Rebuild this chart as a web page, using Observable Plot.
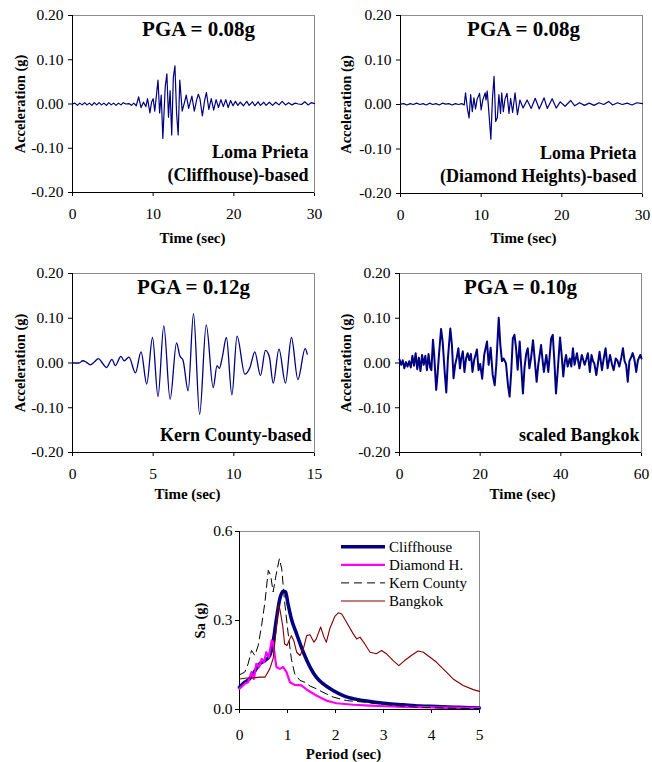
<!DOCTYPE html>
<html><head><meta charset="utf-8">
<script src="https://cdn.jsdelivr.net/npm/d3@7"></script>
<script src="https://cdn.jsdelivr.net/npm/@observablehq/plot@0.6"></script>
<style>
html,body{margin:0;padding:0;background:#fff;}
#root{position:relative;width:652px;height:762px;overflow:hidden;font-family:"Liberation Serif","Times New Roman",serif;}
#root svg{position:absolute;}
</style></head><body><div id="root"></div>
<script>
// ---------- DATA ----------
const cliffhouse = [[0,0],[0.3,0.002],[0.6,-0.003],[0.9,0.002],[1.2,-0.002],[1.5,0.003],[1.8,-0.002],[2.1,0.002],[2.4,-0.003],[2.7,0.003],[3.0,-0.002],[3.3,0.003],[3.6,-0.002],[3.9,0.002],[4.2,-0.003],[4.5,0.003],[4.8,-0.002],[5.1,0.002],[5.4,-0.003],[5.7,0.002],[6.0,-0.002],[6.3,0.003],[6.6,0],[7.0,0.001],[7.3,-0.003],[7.6,0.002],[7.9,-0.004],[8.2,0.016],[8.5,-0.008],[8.8,0.004],[9.1,-0.006],[9.3,0.012],[9.6,-0.02],[9.8,0.004],[10.0,0.012],[10.2,-0.016],[10.6,0.054],[10.8,-0.02],[11.0,0.02],[11.2,-0.078],[11.5,0.04],[11.7,0.068],[11.9,-0.03],[12.1,0.03],[12.3,-0.07],[12.5,0.06],[12.7,0.086],[12.9,-0.02],[13.1,-0.07],[13.3,0.054],[13.6,-0.016],[13.9,0.005],[14.1,0.02],[14.4,-0.01],[14.8,0.018],[15.1,-0.016],[15.4,0.01],[15.6,0.022],[15.8,0.012],[16.1,-0.027],[16.4,0.01],[16.6,0.026],[16.9,-0.012],[17.2,0.012],[17.5,-0.014],[17.8,0.01],[18.1,-0.008],[18.4,0.01],[18.7,-0.006],[19.0,0.01],[19.3,-0.008],[19.6,0.008],[19.9,-0.004],[20.2,0.006],[20.5,-0.003],[20.8,0.004],[21.2,-0.004],[21.6,0.006],[21.9,-0.003],[22.3,0.005],[22.6,-0.004],[23.0,0.005],[23.3,-0.003],[23.7,0.004],[24.0,-0.003],[24.4,0.004],[24.8,-0.003],[25.2,0.004],[25.6,-0.002],[26.0,0.006],[26.4,-0.002],[26.8,0.003],[27.2,-0.002],[27.6,0.002],[28.0,0],[28.4,-0.001],[28.8,0.005],[29.2,-0.002],[29.6,0.003],[30.0,0.001]];

const diamond = [[0,0.001],[0.4,0.002],[0.8,-0.001],[1.2,0.002],[1.6,0],[2.0,0.003],[2.4,0],[2.8,0.002],[3.2,-0.001],[3.6,0.003],[4.0,0],[4.4,0.002],[4.8,-0.001],[5.2,0.003],[5.6,0.001],[6.0,0.002],[6.4,-0.001],[6.8,0.002],[7.2,0],[7.6,0.002],[7.9,-0.001],[8.06,0.026],[8.3,-0.01],[8.5,-0.03],[8.7,0.022],[8.9,-0.016],[9.1,0.015],[9.3,-0.01],[9.5,0.012],[9.8,0.025],[10.0,-0.012],[10.2,0.01],[10.5,0.026],[10.6,0.01],[10.75,0.03],[10.95,-0.016],[11.2,-0.078],[11.4,0.014],[11.6,0.063],[11.8,-0.038],[12.0,-0.03],[12.2,0.022],[12.4,-0.02],[12.55,0.026],[12.75,-0.016],[12.95,0.012],[13.2,0.025],[13.45,-0.02],[13.65,0.014],[13.9,-0.018],[14.2,0.026],[14.5,-0.023],[14.8,0.01],[15.2,-0.008],[15.7,0.01],[16.2,-0.009],[16.7,0.014],[17.2,-0.01],[17.8,0.015],[18.2,-0.009],[18.8,0.013],[19.3,-0.008],[19.8,0.006],[20.4,-0.004],[21.1,0.009],[21.6,-0.003],[22.2,0.004],[22.8,-0.002],[23.4,0.003],[24.0,-0.002],[24.6,0.004],[25.2,0],[25.8,0.007],[26.3,-0.001],[26.9,0.004],[27.5,0],[28.1,0.003],[28.7,-0.001],[29.3,0.004],[30.0,0.002]];

const kern = [[0,0],[0.4,0],[0.64,0.005],[0.85,0.002],[1.1,-0.004],[1.35,0.002],[1.6,0.01],[1.85,0],[2.1,-0.01],[2.45,0.008],[2.65,-0.006],[3.0,0.015],[3.2,0.005],[3.5,0.013],[3.9,-0.022],[4.25,0.025],[4.6,-0.047],[4.96,0.057],[5.3,-0.075],[5.66,0.083],[6.05,-0.081],[6.45,0.045],[6.65,0.016],[6.85,0.006],[7.17,-0.062],[7.5,0.11],[7.88,-0.115],[8.29,0.085],[8.72,-0.055],[8.96,-0.006],[9.1,-0.012],[9.28,0.012],[9.54,0.057],[9.88,-0.071],[10.2,0.06],[10.68,-0.025],[11.0,-0.01],[11.3,0.025],[11.65,-0.028],[11.96,0.028],[12.2,0.014],[12.44,-0.045],[12.8,0.031],[13.2,-0.045],[13.57,0.057],[13.97,-0.037],[14.42,0.032],[14.55,0.02]];

const bangkok = [[0.0,0.008],[0.4,-0.004],[0.8,0.006],[1.2,-0.012],[1.6,0.002],[2.0,-0.008],[2.4,0.004],[2.8,-0.010],[3.2,0.016],[3.6,-0.006],[4.0,0.022],[4.4,-0.014],[4.8,0.012],[5.2,-0.018],[5.6,0.018],[6.0,-0.004],[6.4,0.016],[6.8,-0.016],[7.2,0.020],[7.6,-0.010],[7.9,-0.016],[8.3,0.052],[8.6,0.018],[9.1,-0.060],[9.4,-0.030],[9.8,0.020],[10.3,0.076],[10.7,0.048],[11.2,-0.020],[11.6,-0.066],[12.0,0.010],[12.6,0.077],[13.0,0.040],[13.4,-0.034],[13.8,-0.004],[14.2,0.012],[14.6,0.033],[15.0,-0.012],[15.3,0.010],[15.7,0.026],[16.1,-0.020],[16.5,0.010],[16.9,0.022],[17.3,0.006],[17.7,0.020],[18.1,-0.020],[18.5,0.006],[19.2,0.030],[19.6,-0.016],[20.0,-0.002],[20.5,-0.035],[21.0,0.018],[21.7,0.048],[22.1,-0.004],[22.6,0.034],[23.1,-0.026],[23.6,-0.050],[24.0,-0.004],[24.6,0.101],[25.0,0.040],[25.4,0.004],[25.8,0.010],[26.4,-0.001],[26.9,-0.050],[27.3,-0.075],[27.7,-0.020],[28.1,0.055],[28.5,0.063],[28.9,0.033],[29.3,-0.015],[29.8,0.048],[30.2,-0.010],[30.6,-0.068],[31.0,-0.010],[31.4,0.020],[31.8,0.033],[32.2,-0.012],[32.6,0.010],[33.1,0.051],[33.5,0.010],[34.0,-0.042],[34.4,-0.004],[35.1,0.040],[35.5,0.004],[35.8,-0.020],[36.4,0.018],[36.9,-0.020],[37.6,0.055],[38.0,0.063],[38.4,0.004],[38.8,-0.068],[39.2,-0.020],[39.8,0.057],[40.2,0.018],[40.6,-0.030],[41.0,0.004],[41.3,0.018],[41.7,-0.008],[42.2,0.010],[42.6,-0.008],[43.0,0.033],[43.4,-0.004],[44.0,0.022],[44.6,-0.012],[45.2,0.018],[45.9,-0.004],[46.3,0.008],[46.7,0.022],[47.2,-0.020],[47.6,0.018],[48.0,0.004],[48.3,-0.001],[48.8,-0.027],[49.6,0.025],[50.2,-0.016],[50.6,0.008],[51.1,0.033],[51.6,-0.012],[52.2,0.018],[52.7,-0.004],[53.1,-0.016],[53.6,0.010],[54.0,0.006],[54.5,-0.008],[55.0,0.012],[55.4,0.033],[55.8,0.004],[56.2,-0.004],[56.6,-0.042],[57.0,0.004],[57.4,0.012],[57.8,0.022],[58.2,0.010],[58.7,-0.020],[59.1,0.006],[59.7,0.018],[60.0,0.010]];

// response spectra [period, Sa]
const saCliffhouse = [[0,0.075],[0.11,0.092],[0.21,0.103],[0.28,0.12],[0.35,0.137],[0.42,0.154],[0.53,0.165],[0.63,0.182],[0.70,0.227],[0.77,0.306],[0.84,0.373],[0.91,0.399],[0.96,0.396],[1.01,0.356],[1.08,0.306],[1.19,0.255],[1.33,0.193],[1.47,0.143],[1.6,0.109],[1.74,0.087],[1.95,0.064],[2.16,0.047],[2.44,0.034],[2.72,0.027],[3.06,0.020],[3.41,0.016],[3.76,0.012],[4.1,0.010],[4.45,0.008],[4.8,0.006],[5.0,0.005]];
const saDiamond = [[0,0.07],[0.11,0.087],[0.18,0.092],[0.25,0.126],[0.30,0.103],[0.35,0.154],[0.41,0.143],[0.46,0.171],[0.51,0.16],[0.56,0.193],[0.61,0.176],[0.67,0.233],[0.70,0.227],[0.74,0.176],[0.77,0.143],[0.84,0.137],[0.91,0.143],[0.98,0.126],[1.05,0.092],[1.15,0.083],[1.29,0.081],[1.43,0.064],[1.6,0.047],[1.81,0.030],[2.02,0.021],[2.37,0.016],[2.72,0.013],[3.06,0.011],[3.41,0.009],[3.76,0.008],[4.1,0.007],[4.45,0.006],[5.0,0.005]];
const saKern = [[0,0.117],[0.11,0.126],[0.18,0.154],[0.25,0.199],[0.32,0.182],[0.39,0.216],[0.46,0.283],[0.53,0.362],[0.60,0.469],[0.65,0.452],[0.70,0.396],[0.76,0.452],[0.83,0.508],[0.88,0.474],[0.94,0.362],[1.01,0.261],[1.08,0.171],[1.15,0.120],[1.26,0.098],[1.36,0.092],[1.47,0.079],[1.6,0.070],[1.74,0.058],[1.95,0.042],[2.23,0.030],[2.58,0.025],[2.92,0.019],[3.27,0.013],[3.76,0.007],[4.1,0.006],[4.45,0.004],[5.0,0.003]];
const saBangkok = [[0,0.103],[0.15,0.106],[0.28,0.106],[0.42,0.109],[0.53,0.109],[0.63,0.137],[0.70,0.171],[0.76,0.261],[0.81,0.351],[0.84,0.339],[0.90,0.283],[0.94,0.221],[0.99,0.216],[1.05,0.238],[1.08,0.249],[1.13,0.233],[1.19,0.193],[1.26,0.182],[1.33,0.204],[1.40,0.249],[1.47,0.252],[1.55,0.227],[1.6,0.238],[1.69,0.278],[1.76,0.244],[1.81,0.227],[1.88,0.272],[1.99,0.315],[2.06,0.326],[2.13,0.322],[2.23,0.294],[2.37,0.255],[2.44,0.238],[2.51,0.244],[2.61,0.221],[2.72,0.193],[2.85,0.188],[2.96,0.199],[3.06,0.188],[3.20,0.165],[3.32,0.148],[3.44,0.165],[3.58,0.182],[3.72,0.197],[3.83,0.193],[3.97,0.176],[4.1,0.160],[4.28,0.131],[4.45,0.103],[4.66,0.081],[4.87,0.067],[5.0,0.061]];

const pgaLabels = ["PGA = 0.08g", "PGA = 0.08g", "PGA = 0.12g", "PGA = 0.10g"];
const recordNames = ["Loma Prieta\n(Cliffhouse)-based", "Loma Prieta\n(Diamond Heights)-based", "Kern County-based", "scaled Bangkok"];
const timeTicks = [[0,10,20,30],[0,10,20,30],[0,5,10,15],[0,20,40,60]];
const accTicks = [-0.2,-0.1,0,0.1,0.2];
const periodTicks = [0,1,2,3,4,5];
const saTicks = [0,0.3,0.6];
const legendNames = ["Cliffhouse","Diamond H.","Kern County","Bangkok"];
const legendColors = ["#000080","#ff00ff","#000000","#800000"];
const legendWidths = [3.5,2.2,1,1.1];
const legendDash = [null,null,"8,5",null];

// ---------- LAYOUT ----------
const root = document.getElementById("root");
const FONT = '"Liberation Serif","Times New Roman",serif';
const NAVY = "#000080";

function timePanel(o) {
  const xDom = [o.ticks[0], o.ticks[o.ticks.length-1]];
  const yDom = [accTicks[0], accTicks[accTicks.length-1]];
  const svg = Plot.plot({
    width: o.w, height: o.h,
    marginLeft: o.mL, marginRight: o.mR, marginTop: o.mT, marginBottom: o.mB,
    style: {fontFamily: FONT, fontSize: "15.5px", color: "#000", background: "transparent", overflow: "visible"},
    x: {domain: xDom, ticks: o.ticks, tickFormat: d => String(d), tickSize: 4, tickPadding: 11, label: null},
    y: {domain: yDom, ticks: accTicks, tickFormat: d => d.toFixed(2), tickSize: 4, tickPadding: 5, label: null},
    marks: [
      Plot.frame({stroke: "#8c8c8c"}),
      Plot.ruleX([xDom[0]], {stroke: "#000"}),
      Plot.ruleY([yDom[0]], {stroke: "#000"}),
      Plot.line(o.data, {x: d => d[0], y: d => d[1], stroke: NAVY, strokeWidth: o.sw, curve: o.curve}),
      Plot.text([o.pga], {text: d => d, frameAnchor: "top", textAnchor: "middle", lineAnchor: "bottom", dx: o.pgaDx, dy: 20, fontSize: 21, fontWeight: "bold"}),
      Plot.text([o.name], {text: d => d, frameAnchor: "bottom-right", textAnchor: "end", lineAnchor: "bottom", dx: o.nDx, dy: -12, fontSize: 18, fontWeight: "bold", lineHeight: 1.25}),
      Plot.text(["Time (sec)"], {text: d => d, frameAnchor: "bottom", textAnchor: "middle", lineAnchor: "bottom", dx: o.tDx, dy: o.tDy, fontSize: 15, fontWeight: "bold"}),
      Plot.text(["Acceleration (g)"], {text: d => d, frameAnchor: "left", textAnchor: "middle", lineAnchor: "middle", rotate: -90, dx: o.yDx, fontSize: 14.5, fontWeight: "bold"})
    ]
  });
  svg.style.left = o.left + "px";
  svg.style.top = o.top + "px";
  root.appendChild(svg);
}

timePanel({left: 0, top: 0, w: 326, h: 250, mL: 72, mR: 12, mT: 15, mB: 58, ticks: timeTicks[0], data: cliffhouse, sw: 1.2, curve: "linear",
  pga: pgaLabels[0], pgaDx: 5, name: recordNames[0], nDx: -6, tDx: -1, tDy: 50, yDx: -52});
timePanel({left: 326, top: 0, w: 326, h: 250, mL: 74, mR: 10, mT: 15, mB: 57, ticks: timeTicks[1], data: diamond, sw: 1.2, curve: "linear",
  pga: pgaLabels[1], pgaDx: 2, name: recordNames[1], nDx: -6, tDx: 2, tDy: 49, yDx: -54});
timePanel({left: 0, top: 250, w: 326, h: 260, mL: 72, mR: 12, mT: 23, mB: 58, ticks: timeTicks[2], data: kern, sw: 1.3, curve: "monotone-x",
  pga: pgaLabels[2], pgaDx: 0, name: recordNames[2], nDx: -3, tDx: -6, tDy: 46, yDx: -52});
timePanel({left: 326, top: 250, w: 326, h: 260, mL: 73, mR: 11, mT: 23, mB: 58, ticks: timeTicks[3], data: bangkok, sw: 2, curve: "linear",
  pga: pgaLabels[3], pgaDx: 0, name: recordNames[3], nDx: -2, tDy: 46, tDx: 2, yDx: -53});

// spectrum panel
{
  const xDom = [periodTicks[0], periodTicks[periodTicks.length-1]];
  const yDom = [saTicks[0], saTicks[saTicks.length-1]];
  const series = [saCliffhouse, saDiamond, saKern, saBangkok];
  const svg = Plot.plot({
    width: 350, height: 247,
    marginLeft: 89, marginRight: 21, marginTop: 16, marginBottom: 53,
    style: {fontFamily: FONT, fontSize: "15.5px", color: "#000", background: "transparent", overflow: "visible"},
    x: {domain: xDom, ticks: periodTicks, tickFormat: d => String(d), tickSize: 4, tickPadding: 15, label: null},
    y: {domain: yDom, ticks: saTicks, tickFormat: d => d.toFixed(1), tickSize: 4, tickPadding: 3, label: null},
    marks: [
      Plot.frame({stroke: "#8c8c8c"}),
      Plot.ruleX([xDom[0]], {stroke: "#000"}),
      Plot.ruleY([yDom[0]], {stroke: "#000"}),
      ...series.map((s, i) => Plot.line(s, {x: d => d[0], y: d => d[1], stroke: legendColors[i], strokeWidth: legendWidths[i],
        strokeDasharray: legendDash[i] || undefined, curve: i === 0 ? "monotone-x" : "linear"})),
      Plot.text(["Period (sec)"], {text: d => d, frameAnchor: "bottom", textAnchor: "middle", lineAnchor: "bottom", dx: -16, dy: 49, fontSize: 15, fontWeight: "bold"}),
      Plot.text(["Sa (g)"], {text: d => d, frameAnchor: "left", textAnchor: "middle", lineAnchor: "middle", rotate: -90, dx: -39, fontSize: 14.5, fontWeight: "bold"})
    ]
  });
  svg.style.left = "150px";
  svg.style.top = "515px";
  root.appendChild(svg);

  // legend overlay
  const leg = d3.create("svg").attr("width", 652).attr("height", 762)
    .style("left", "0px").style("top", "0px").style("pointer-events", "none");
  const rowY = d3.scaleLinear().domain([0, 1]).range([546.7, 564.8]);
  const g = leg.selectAll("g").data(legendNames).join("g")
    .attr("transform", (d, i) => `translate(0,${rowY(i)})`);
  g.append("line").attr("x1", 341).attr("x2", 385).attr("y1", 0).attr("y2", 0)
    .attr("stroke", (d, i) => legendColors[i]).attr("stroke-width", (d, i) => legendWidths[i])
    .attr("stroke-dasharray", (d, i) => legendDash[i]);
  g.append("text").attr("x", 389).attr("y", 5).attr("font-family", FONT).attr("font-size", 15)
    .attr("fill", "#000").text(d => d);
  root.appendChild(leg.node());
}
</script>
</body></html>
